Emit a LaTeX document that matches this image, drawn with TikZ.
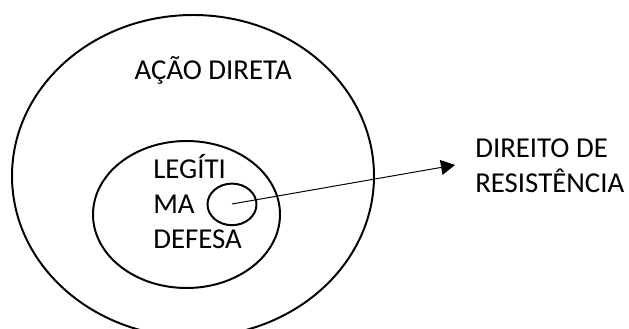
\documentclass[tikz,border=0pt]{standalone}
\usepackage{fontspec}
\setmainfont{Carlito}
\usetikzlibrary{arrows.meta}
\begin{document}
\begin{tikzpicture}[every node/.style={inner sep=0pt, font=\fontsize{20.5}{25}\selectfont}]
  \clip(0,0) rectangle (15.725,8.225);
  \draw[line width=1.4pt](4.825,3.825) ellipse (4.525 and 4.025);
  \draw[line width=1.4pt](4.6625,2.8625) ellipse (2.3375 and 1.8375);
  \draw[line width=1.4pt](5.8,3.115) ellipse (.6125 and .52);
  \coordinate (core) at (5.8,3.125);
  \coordinate (tip) at (11.375,4.1);
  \node[anchor=base](acao) at (5.33,6.24) {AÇÃO DIRETA};
  \node[anchor=base west, align=left](legit) at (3.825,2.0) {LEGÍTI\\MA\\DEFESA};
  \node[anchor=base west, align=left](dir) at (11.875,3.4) {DIREITO DE\\RESISTÊNCIA};
  \draw[-{Triangle[length=.35cm,width=.375cm]}, line width=.7pt](core) -- (tip);
\end{tikzpicture}
\end{document}
